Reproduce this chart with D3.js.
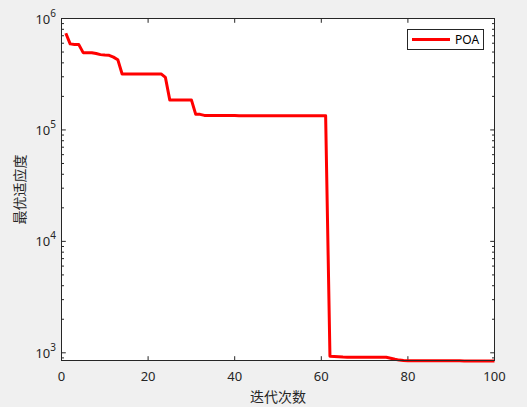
<!DOCTYPE html>
<html>
<head>
<meta charset="utf-8">
<script src="https://cdn.jsdelivr.net/npm/d3@7"></script>
<style>
	body { margin: 0; background: #f0f0f0; }
	svg { display: block; font-family: "Noto Sans", "Noto Sans CJK SC", sans-serif; }
</style>
</head>
<body>
<svg id="chart" width="527" height="407"></svg>
<script>
'use strict';

// best fitness per iteration (POA)
var iterations = d3.range(1, 101);
var fitness = [
	738000, 592000, 585000, 583000, 494000, 494000, 493000, 485000, 474000, 470000,
	467000, 450000, 427000, 318000, 318000, 318000, 318000, 318000, 318000, 318000,
	318000, 318000, 318000, 296000, 186000, 186000, 186000, 186000, 186000, 186000,
	138000, 138000, 135000, 135000, 135000, 135000, 135000, 134500, 134500, 134500,
	134000, 134000, 134000, 134000, 134000, 134000, 134000, 134000, 134000, 134000,
	134000, 134000, 134000, 134000, 134000, 134000, 134000, 134000, 134000, 134000,
	134000, 930, 925, 920, 915, 912, 912, 912, 912, 912,
	912, 912, 912, 912, 912, 895, 875, 860, 852, 850,
	850, 850, 850, 850, 850, 848, 848, 848, 848, 848,
	848, 848, 845, 845, 845, 845, 845, 845, 845, 845
];
var xTicks = [0, 20, 40, 60, 80, 100];
var yTicks = [1e3, 1e4, 1e5, 1e6];
var seriesName = 'POA';

var svg = d3.select('#chart');
var box = {left: 61.5, right: 494.5, top: 18.5, bottom: 360.5};

var x = d3.scaleLinear().domain([0, 100]).range([box.left, box.right]);
var y = d3.scaleLog().domain([853, 1e6]).range([box.bottom, box.top]);

svg.append('rect')
	.attr('x', box.left).attr('y', box.top)
	.attr('width', box.right - box.left).attr('height', box.bottom - box.top)
	.attr('fill', 'white');

// minor log ticks
var minor = [];
[100, 1000, 10000, 100000].forEach(function (p) {
	for (var k = 2; k <= 9; k++) {
		var v = k * p;
		if (v > 853 && v < 1e6) minor.push(v);
	}
});

var axisColor = '#262626';
var g = svg.append('g').attr('stroke', axisColor).attr('stroke-width', 1);

xTicks.forEach(function (t) {
	g.append('line').attr('x1', x(t)).attr('x2', x(t))
		.attr('y1', box.bottom).attr('y2', box.bottom - 4.3);
	g.append('line').attr('x1', x(t)).attr('x2', x(t))
		.attr('y1', box.top).attr('y2', box.top + 4.3);
});
yTicks.forEach(function (t) {
	g.append('line').attr('y1', y(t)).attr('y2', y(t))
		.attr('x1', box.left).attr('x2', box.left + 4.3);
	g.append('line').attr('y1', y(t)).attr('y2', y(t))
		.attr('x1', box.right).attr('x2', box.right - 4.3);
});
minor.forEach(function (t) {
	g.append('line').attr('y1', y(t)).attr('y2', y(t))
		.attr('x1', box.left).attr('x2', box.left + 2.5);
	g.append('line').attr('y1', y(t)).attr('y2', y(t))
		.attr('x1', box.right).attr('x2', box.right - 2.5);
});

// data line
var line = d3.line()
	.x(function (d, i) { return x(iterations[i]); })
	.y(function (d) { return y(d); });
svg.append('path')
	.datum(fitness)
	.attr('d', line)
	.attr('fill', 'none')
	.attr('stroke', '#ff0000')
	.attr('stroke-width', 3)
	.attr('stroke-linejoin', 'round');

// axes box
svg.append('rect')
	.attr('x', box.left).attr('y', box.top)
	.attr('width', box.right - box.left).attr('height', box.bottom - box.top)
	.attr('fill', 'none').attr('stroke', axisColor).attr('stroke-width', 1);

// tick labels
svg.selectAll('text.xtick')
	.data(xTicks)
	.enter()
	.append('text')
		.classed('xtick', true)
		.attr('x', function (d) { return x(d); })
		.attr('y', 381)
		.attr('text-anchor', 'middle')
		.attr('font-size', 13)
		.attr('fill', axisColor)
		.text(function (d) { return d; });

var yl = svg.selectAll('text.ytick')
	.data(yTicks)
	.enter()
	.append('text')
		.classed('ytick', true)
		.attr('x', 56)
		.attr('y', function (d) { return y(d) + 5; })
		.attr('text-anchor', 'end')
		.attr('font-size', 13)
		.attr('fill', axisColor);
yl.append('tspan').text('10');
yl.append('tspan')
	.attr('dy', -7)
	.attr('font-size', 10)
	.text(function (d) { return Math.round(Math.log10(d)); });

// axis labels
svg.append('text')
	.attr('x', x(50)).attr('y', 402)
	.attr('text-anchor', 'middle')
	.attr('font-size', 14)
	.attr('fill', axisColor)
	.text('迭代次数');
svg.append('text')
	.attr('transform', 'translate(25 ' + ((box.top + box.bottom) / 2) + ') rotate(-90)')
	.attr('text-anchor', 'middle')
	.attr('font-size', 14)
	.attr('fill', axisColor)
	.text('最优适应度');

// legend
var lg = svg.append('g');
lg.append('rect')
	.attr('x', 407.5).attr('y', 29.5).attr('width', 76).attr('height', 20)
	.attr('fill', 'white').attr('stroke', axisColor).attr('stroke-width', 1);
lg.append('line')
	.attr('x1', 412).attr('x2', 450).attr('y1', 39.5).attr('y2', 39.5)
	.attr('stroke', '#ff0000').attr('stroke-width', 3);
lg.append('text')
	.attr('x', 455).attr('y', 44)
	.attr('font-size', 12)
	.attr('fill', '#000')
	.text(seriesName);
</script>
</body>
</html>
